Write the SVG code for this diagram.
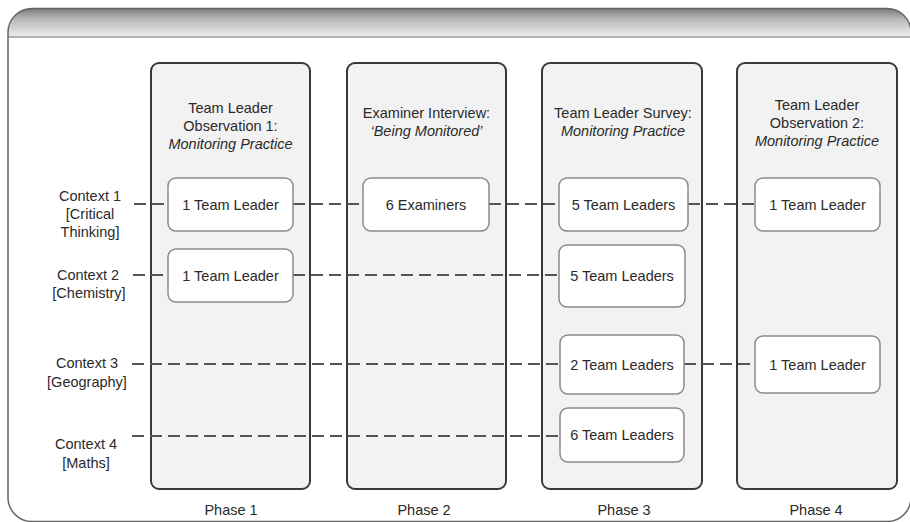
<svg xmlns="http://www.w3.org/2000/svg" width="910" height="522" viewBox="0 0 910 522">
  <defs>
    <linearGradient id="headerFill" x1="0" y1="0" x2="0" y2="1">
      <stop offset="0" stop-color="#7a7a7a"/>
      <stop offset="0.35" stop-color="#b5b5b5"/>
      <stop offset="1" stop-color="#efefef"/>
    </linearGradient>
    <clipPath id="frameClip">
      <rect x="8" y="8.5" width="903" height="513" rx="24"/>
    </clipPath>
    <style>
      text { font-family: "Liberation Sans", Arial, sans-serif; font-size: 14.5px; fill: #2a2a2a; text-anchor: middle; }
      .it { font-style: italic; }
      .phase { fill: #f2f2f2; stroke: #3a3a3a; stroke-width: 2; }
      .cell { fill: #ffffff; stroke: #8a8a8a; stroke-width: 1.5; }
      .link { stroke: #555555; stroke-width: 2; stroke-dasharray: 12 6; fill: none; }
    </style>
  </defs>

  <!-- outer frame with shaded title band -->
  <g id="frame">
    <rect x="8" y="8.5" width="903" height="513" rx="24" fill="#ffffff"/>
    <rect x="8" y="8.5" width="903" height="28.5" fill="url(#headerFill)" clip-path="url(#frameClip)"/>
    <line x1="8" y1="37" x2="911" y2="37" stroke="#9a9a9a" stroke-width="1.5"/>
    <rect x="8" y="8.5" width="903" height="513" rx="24" fill="none" stroke="#666666" stroke-width="1.5"/>
  </g>

  <!-- phase columns -->
  <g id="phase1">
    <rect class="phase" x="151" y="63" width="159" height="426" rx="8"/>
    <text x="230.5" y="113">Team Leader</text>
    <text x="230.5" y="131">Observation 1:</text>
    <text x="230.5" y="149" class="it">Monitoring Practice</text>
    <text x="231" y="515">Phase 1</text>
  </g>
  <g id="phase2">
    <rect class="phase" x="347" y="63" width="159" height="426" rx="8"/>
    <text x="426.5" y="118">Examiner Interview:</text>
    <text x="426.5" y="136" class="it">‘Being Monitored’</text>
    <text x="424" y="515">Phase 2</text>
  </g>
  <g id="phase3">
    <rect class="phase" x="542" y="63" width="160" height="426" rx="8"/>
    <text x="623" y="118">Team Leader Survey:</text>
    <text x="623" y="136" class="it">Monitoring Practice</text>
    <text x="624" y="515">Phase 3</text>
  </g>
  <g id="phase4">
    <rect class="phase" x="737" y="63" width="160" height="426" rx="8"/>
    <text x="817" y="110">Team Leader</text>
    <text x="817" y="128">Observation 2:</text>
    <text x="817" y="146" class="it">Monitoring Practice</text>
    <text x="816" y="515">Phase 4</text>
  </g>

  <!-- context labels -->
  <g id="context1">
    <text x="90" y="201">Context 1</text>
    <text x="90" y="219">[Critical</text>
    <text x="90" y="237">Thinking]</text>
  </g>
  <g id="context2">
    <text x="88" y="280">Context 2</text>
    <text x="89" y="298">[Chemistry]</text>
  </g>
  <g id="context3">
    <text x="87" y="368">Context 3</text>
    <text x="87" y="387">[Geography]</text>
  </g>
  <g id="context4">
    <text x="86" y="449">Context 4</text>
    <text x="86" y="468">[Maths]</text>
  </g>

  <!-- dashed connectors linking each context across the phases -->
  <g id="connectors">
    <line class="link" x1="134" y1="204" x2="168" y2="204"/>
    <line class="link" x1="293" y1="204" x2="363" y2="204"/>
    <line class="link" x1="489" y1="204" x2="559" y2="204"/>
    <line class="link" x1="688" y1="204" x2="755" y2="204"/>

    <line class="link" x1="133" y1="275" x2="168" y2="275"/>
    <line class="link" x1="293" y1="275" x2="559" y2="275"/>

    <line class="link" x1="132" y1="364" x2="560" y2="364"/>
    <line class="link" x1="684" y1="364" x2="755" y2="364"/>

    <line class="link" x1="132" y1="436" x2="560" y2="436"/>
  </g>

  <!-- participant boxes -->
  <g id="p1-context1">
    <rect class="cell" x="168" y="178" width="125" height="53" rx="8"/>
    <text x="230.5" y="209.5">1 Team Leader</text>
  </g>
  <g id="p1-context2">
    <rect class="cell" x="168" y="249" width="125" height="53" rx="8"/>
    <text x="230.5" y="280.5">1 Team Leader</text>
  </g>
  <g id="p2-context1">
    <rect class="cell" x="363" y="178" width="126" height="53" rx="8"/>
    <text x="426" y="209.5">6 Examiners</text>
  </g>
  <g id="p3-context1">
    <rect class="cell" x="559" y="178" width="129" height="53" rx="8"/>
    <text x="623.5" y="209.5">5 Team Leaders</text>
  </g>
  <g id="p3-context2">
    <rect class="cell" x="559" y="245" width="126" height="62" rx="8"/>
    <text x="622" y="281">5 Team Leaders</text>
  </g>
  <g id="p3-context3">
    <rect class="cell" x="560" y="335" width="124" height="59" rx="8"/>
    <text x="622" y="369.5">2 Team Leaders</text>
  </g>
  <g id="p3-context4">
    <rect class="cell" x="560" y="408" width="124" height="54" rx="8"/>
    <text x="622" y="440">6 Team Leaders</text>
  </g>
  <g id="p4-context1">
    <rect class="cell" x="755" y="178" width="125" height="53" rx="8"/>
    <text x="817.5" y="209.5">1 Team Leader</text>
  </g>
  <g id="p4-context3">
    <rect class="cell" x="755" y="336" width="125" height="57" rx="8"/>
    <text x="817.5" y="369.5">1 Team Leader</text>
  </g>
</svg>
